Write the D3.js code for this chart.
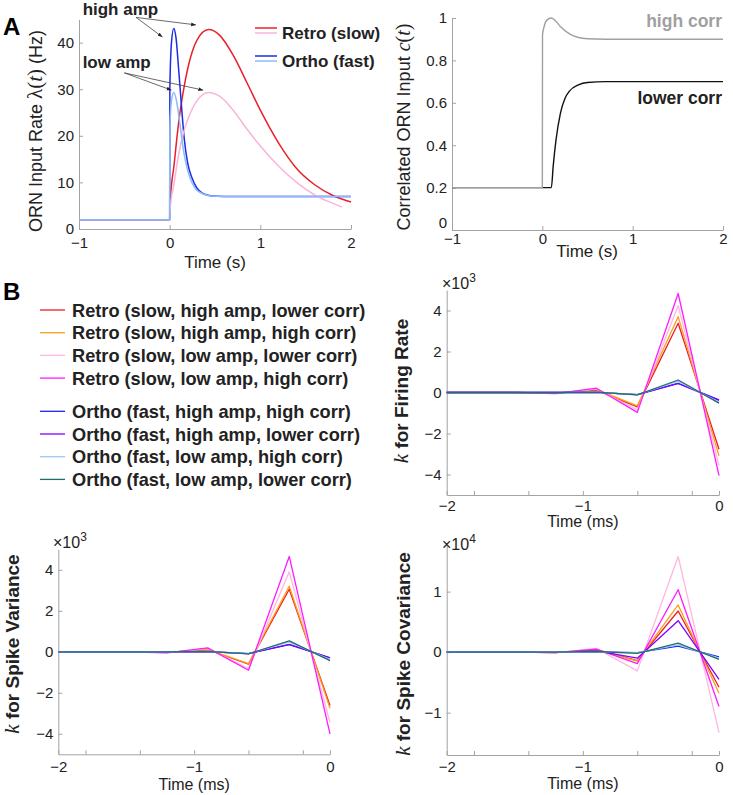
<!DOCTYPE html>
<html>
<head>
<meta charset="utf-8">
<script src="https://cdn.jsdelivr.net/npm/d3@7"></script>
<style>
  body { margin: 0; background: #fff; }
</style>
</head>
<body>
<svg width="733" height="795"></svg>
<script>
// ---- Panel A, left: ORN input rate (t in s, rate in Hz)
const retroHigh = [[-1,2],[0,2],[0.002,4.8],[0.05,14],[0.1,23],[0.15,29.5],[0.2,34.5],[0.3,40.5],[0.43,42.8],[0.55,41.6],[0.7,37.3],[0.85,31.5],[1.0,25.5],[1.2,18.5],[1.4,13],[1.6,9.5],[1.8,7.2],[2.0,5.8]];
const retroLow  = [[-1,2],[0,2],[0.002,3.5],[0.05,10],[0.1,16],[0.15,20.5],[0.2,23.5],[0.3,27.5],[0.43,29.3],[0.55,28.5],[0.7,25.5],[0.85,21.5],[1.0,17.8],[1.2,13.5],[1.4,10],[1.6,7.3],[1.8,5.5],[1.9,4.7]];
const orthoHigh = [[-1,2],[0,2],[0.002,30],[0.02,40],[0.045,43],[0.07,41],[0.1,34],[0.13,26.5],[0.16,19.5],[0.2,14],[0.25,10.8],[0.3,8.8],[0.36,7.7],[0.45,7.15],[0.6,7],[2,7]];
const orthoLow  = [[-1,2],[0,2],[0.002,22],[0.02,27.5],[0.045,29.3],[0.07,28],[0.1,24.5],[0.13,20],[0.16,16],[0.2,12.5],[0.25,9.8],[0.3,8.3],[0.36,7.6],[0.45,7.1],[0.6,7],[2,7]];
const rateTicksX = [-1, 0, 1, 2];
const rateTicksY = [0, 10, 20, 30, 40];

// ---- Panel A, right: correlated input c(t)
const corrHigh  = [[-1,0.2],[0,0.2],[0.002,0.92],[0.02,0.96],[0.05,0.99],[0.1,1.0],[0.15,0.985],[0.2,0.96],[0.3,0.925],[0.4,0.908],[0.5,0.902],[0.7,0.9],[2,0.9]];
const corrLower = [[-1,0.2],[0.1,0.2],[0.12,0.3],[0.15,0.42],[0.2,0.55],[0.25,0.62],[0.3,0.655],[0.4,0.685],[0.5,0.696],[0.7,0.7],[2,0.7]];
const corrTicksY = [0, 0.2, 0.4, 0.6, 0.8, 1];

// ---- Panel B: filters k (time in ms)
const seriesNames = [
  "Retro (slow, high amp, lower corr)",
  "Retro (slow, high amp, high corr)",
  "Retro (slow, low amp, lower corr)",
  "Retro (slow, low amp, high corr)",
  "Ortho (fast, high amp, high corr)",
  "Ortho (fast, high amp, lower corr)",
  "Ortho (fast, low amp, high corr)",
  "Ortho (fast, low amp, lower corr)"
];
const seriesColors = ["#ee1c25", "#f9a01b", "#ffb6e1", "#ff1aff", "#1f1fff", "#8000ff", "#9ec8f5", "#1e6f6a"];
const kTime = [-2, -1.8, -1.5, -1.2, -0.9, -0.6, -0.3, 0];
// x10^3
const kRate = [
  [0, 0, 0, -0.03, 0.12, -0.70, 3.38, -2.77],
  [0, 0, 0, -0.03, 0.15, -0.65, 3.70, -3.09],
  [0, 0, 0, -0.04, 0.18, -0.85, 4.23, -3.57],
  [0, 0, 0, -0.05, 0.21, -0.97, 4.83, -4.06],
  [0, 0, 0, 0, 0.01, -0.10, 0.45, -0.36],
  [0, 0, 0, 0, 0.01, -0.10, 0.44, -0.38],
  [0, 0, 0, 0, 0.02, -0.11, 0.55, -0.47],
  [0, 0, 0, 0, 0.02, -0.12, 0.61, -0.52]
];
// x10^3
const kVar = [
  [0, 0, 0, -0.03, 0.10, -0.60, 3.05, -2.62],
  [0, 0, 0, -0.03, 0.12, -0.58, 3.20, -2.75],
  [0, 0, 0, -0.04, 0.17, -0.82, 3.90, -3.45],
  [0, 0, 0, -0.05, 0.19, -0.90, 4.65, -4.00],
  [0, 0, 0, 0, 0.01, -0.09, 0.35, -0.29],
  [0, 0, 0, 0, 0.01, -0.09, 0.36, -0.30],
  [0, 0, 0, 0, 0.02, -0.09, 0.48, -0.38],
  [0, 0, 0, 0, 0.02, -0.10, 0.53, -0.43]
];
// x10^4
const kCov = [
  [0, 0, 0, -0.01, 0.04, -0.14, 0.68, -0.58],
  [0, 0, 0, -0.01, 0.04, -0.15, 0.78, -0.68],
  [0, 0, 0, -0.01, 0.06, -0.31, 1.58, -1.33],
  [0, 0, 0, -0.01, 0.05, -0.19, 1.03, -0.90],
  [0, 0, 0, 0, 0.005, -0.01, 0.10, -0.08],
  [0, 0, 0, 0, 0.02, -0.10, 0.52, -0.45],
  [0, 0, 0, 0, 0.005, -0.01, 0.12, -0.10],
  [0, 0, 0, 0, 0.01, -0.02, 0.15, -0.12]
];
const kTicksX = [-2, -1.8, -1.4, -1, -0.6, -0.2, 0];
const kTickText = ["−2", "", "", "−1", "", "", "0"];
const kTicksY = [-4, -2, 0, 2, 4];
const kCovTicksY = [-1, 0, 1];

const svg = d3.select("svg");
const sans = '"Liberation Sans", Arial, sans-serif';
const serif = '"Liberation Serif", "DejaVu Serif", serif';
const axisGrey = "#a3a3a3";
const ink = "#222";
const fmt = d => String(d).replace("-", "−");

// draws the two axes of one panel and returns its scales
function frame(box, xDom, yDom, xTicks, yTicks, xFmt, xPad) {
  const x = d3.scaleLinear().domain(xDom).range([box.left, box.right]);
  const y = d3.scaleLinear().domain(yDom).range([box.bottom, box.top]);
  const gx = svg.append("g").attr("transform", `translate(0,${box.bottom})`)
    .call(d3.axisBottom(x).tickValues(xTicks).tickFormat(xFmt).tickSize(-4).tickSizeOuter(0).tickPadding(xPad));
  const gy = svg.append("g").attr("transform", `translate(${box.left},0)`)
    .call(d3.axisLeft(y).tickValues(yTicks).tickFormat(fmt).tickSize(-4).tickSizeOuter(0).tickPadding(5));
  [gx, gy].forEach(g => {
    g.attr("font-family", sans).attr("font-size", 15);
    g.select(".domain").attr("stroke", axisGrey);
    g.selectAll(".tick line").attr("stroke", axisGrey);
    g.selectAll(".tick text").attr("fill", ink);
  });
  return {x, y, gy};
}

function curve(sc, pts, color, w, interp) {
  svg.append("path")
    .datum(pts)
    .attr("fill", "none")
    .attr("stroke", color)
    .attr("stroke-width", w)
    .attr("stroke-linejoin", "round")
    .attr("d", d3.line().x(d => sc.x(d[0])).y(d => sc.y(d[1])).curve(interp));
}

function label(x, y, size, weight, rotate) {
  return svg.append("text")
    .attr("transform", `translate(${x},${y})` + (rotate ? " rotate(-90)" : ""))
    .attr("text-anchor", "middle")
    .attr("font-family", sans)
    .attr("font-size", size)
    .attr("font-weight", weight)
    .attr("fill", ink);
}

// ================= Panel A left
const a1 = frame({left: 79, right: 351, top: 19.3, bottom: 229}, [-1, 2], [0, 45], rateTicksX, rateTicksY, fmt, 8);
curve(a1, retroHigh, "#e8202a", 1.5, d3.curveMonotoneX);
curve(a1, orthoHigh, "#1f2de0", 1.5, d3.curveMonotoneX);
curve(a1, retroLow, "#f9b4da", 1.5, d3.curveMonotoneX);
curve(a1, orthoLow, "#8cbcf7", 1.5, d3.curveMonotoneX);

svg.append("defs").append("marker")
  .attr("id", "head").attr("viewBox", "0 0 10 10").attr("refX", 10).attr("refY", 5)
  .attr("markerWidth", 6).attr("markerHeight", 6).attr("orient", "auto")
  .append("path").attr("d", "M0,1L10,5L0,9z").attr("fill", "#222");

// annotation arrows, in data units
const arrows = [
  [[-0.37, 45.4], [-0.08, 41.2]],
  [[-0.37, 45.4], [0.29, 43.8]],
  [[-0.5, 33.5], [0.02, 29.8]],
  [[-0.5, 33.5], [0.37, 29.8]]
];
svg.append("g").selectAll("line").data(arrows).join("line")
  .attr("x1", d => a1.x(d[0][0])).attr("y1", d => a1.y(d[0][1]))
  .attr("x2", d => a1.x(d[1][0])).attr("y2", d => a1.y(d[1][1]))
  .attr("stroke", "#444").attr("stroke-width", 0.8)
  .attr("marker-end", "url(#head)");

svg.append("text").attr("x", a1.x(-0.96)).attr("y", 15)
  .attr("font-family", sans).attr("font-size", 17).attr("font-weight", "bold").attr("fill", ink)
  .text("high amp");
svg.append("text").attr("x", a1.x(-0.96)).attr("y", 68)
  .attr("font-family", sans).attr("font-size", 17).attr("font-weight", "bold").attr("fill", ink)
  .text("low amp");

// legend A
const legA = [
  {name: "Retro (slow)", colors: ["#e8202a", "#f9b4da"], y: 33},
  {name: "Ortho (fast)", colors: ["#1f2de0", "#8cbcf7"], y: 61}
];
legA.forEach(l => {
  l.colors.forEach((c, i) => {
    svg.append("line").attr("x1", 255).attr("x2", 277)
      .attr("y1", l.y - 5 + i * 5).attr("y2", l.y - 5 + i * 5)
      .attr("stroke", c).attr("stroke-width", 1.5);
  });
  svg.append("text").attr("x", 282).attr("y", l.y).attr("dy", "0.36em")
    .attr("font-family", sans).attr("font-size", 17).attr("font-weight", "bold").attr("fill", ink)
    .text(l.name);
});

label(215, 268, 17, "normal", false).text("Time (s)");
const yl1 = label(42, 131, 18, "normal", true);
yl1.append("tspan").text("ORN Input Rate ");
yl1.append("tspan").attr("font-family", serif).attr("font-size", 21).text("λ(");
yl1.append("tspan").attr("font-family", serif).attr("font-size", 21).attr("font-style", "italic").text("t");
yl1.append("tspan").attr("font-family", serif).attr("font-size", 21).text(")");
yl1.append("tspan").text(" (Hz)");

// ================= Panel A right
const a2 = frame({left: 452, right: 723, top: 18, bottom: 230}, [-1, 2], [0, 1], rateTicksX, corrTicksY, fmt, 3);
a2.gy.selectAll(".tick text").filter(d => d === 0).attr("dy", "-0.2em");
curve(a2, corrLower, "#111", 1.4, d3.curveMonotoneX);
curve(a2, corrHigh, "#a0a0a0", 1.4, d3.curveMonotoneX);

svg.append("text").attr("x", 722).attr("y", 27).attr("text-anchor", "end")
  .attr("font-family", sans).attr("font-size", 17.5).attr("font-weight", "bold").attr("fill", "#a0a0a0")
  .text("high corr");
svg.append("text").attr("x", 722).attr("y", 104).attr("text-anchor", "end")
  .attr("font-family", sans).attr("font-size", 17.5).attr("font-weight", "bold").attr("fill", ink)
  .text("lower corr");

label(587, 257, 17, "normal", false).text("Time (s)");
const yl2 = label(410, 127, 18, "normal", true);
yl2.append("tspan").text("Correlated ORN Input ");
yl2.append("tspan").attr("font-family", serif).attr("font-size", 20).attr("font-style", "italic").text("c");
yl2.append("tspan").attr("font-family", serif).attr("font-size", 20).text("(");
yl2.append("tspan").attr("font-family", serif).attr("font-size", 20).attr("font-style", "italic").text("t");
yl2.append("tspan").attr("font-family", serif).attr("font-size", 20).text(")");

// panel letters
svg.append("text").attr("x", 3).attr("y", 35)
  .attr("font-family", sans).attr("font-size", 24).attr("font-weight", "bold").attr("fill", "#000").text("A");
svg.append("text").attr("x", 3).attr("y", 300)
  .attr("font-family", sans).attr("font-size", 24).attr("font-weight", "bold").attr("fill", "#000").text("B");

// ================= Panel B legend
seriesNames.forEach((name, i) => {
  const y = 310 + i * 22.7 + (i >= 4 ? 10.5 : 0);
  svg.append("line").attr("x1", 40).attr("x2", 65).attr("y1", y).attr("y2", y)
    .attr("stroke", seriesColors[i]).attr("stroke-width", 1.3);
  svg.append("text").attr("x", 72).attr("y", y).attr("dy", "0.36em")
    .attr("font-family", sans).attr("font-size", 18.2).attr("font-weight", "bold").attr("fill", ink)
    .text(name);
});

// ================= Panel B plots
function kPanel(box, yDom, yTicks, data, xPad, expo, expoPos, yLabel, yLabelPos, xLabelY) {
  const sc = frame(box, [-2, 0], yDom, kTicksX, yTicks, (d, i) => kTickText[i], xPad);
  data.forEach((vals, i) => {
    curve(sc, kTime.map((t, j) => [t, vals[j]]), seriesColors[i], 1.3, d3.curveLinear);
  });
  const ex = svg.append("text").attr("x", expoPos[0]).attr("y", expoPos[1])
    .attr("font-family", sans).attr("font-size", 16).attr("fill", ink);
  ex.append("tspan").text("×10");
  ex.append("tspan").attr("font-size", 12).attr("dy", -7).text(expo);
  const yl = label(yLabelPos[0], yLabelPos[1], 19, "bold", true);
  yl.append("tspan").attr("font-family", serif).attr("font-style", "italic").attr("font-weight", "normal").attr("font-size", 21).text("k");
  yl.append("tspan").text(" for " + yLabel);
  label((box.left + box.right) / 2, xLabelY, 16, "normal", false).text("Time (ms)");
}

kPanel({left: 446.7, right: 719, top: 290, bottom: 495}, [-5, 5], kTicksY, kRate, 5, "3", [442, 289], "Firing Rate", [408, 391], 527);
kPanel({left: 58.3, right: 330, top: 549.3, bottom: 754.3}, [-5, 5], kTicksY, kVar, 7, "3", [53, 548], "Spike Variance", [19, 644], 790);
kPanel({left: 446.7, right: 719, top: 545, bottom: 755}, [-1.70, 1.77], kCovTicksY, kCov, 6, "4", [442, 550], "Spike Covariance", [410, 654], 789);
</script>
</body>
</html>
